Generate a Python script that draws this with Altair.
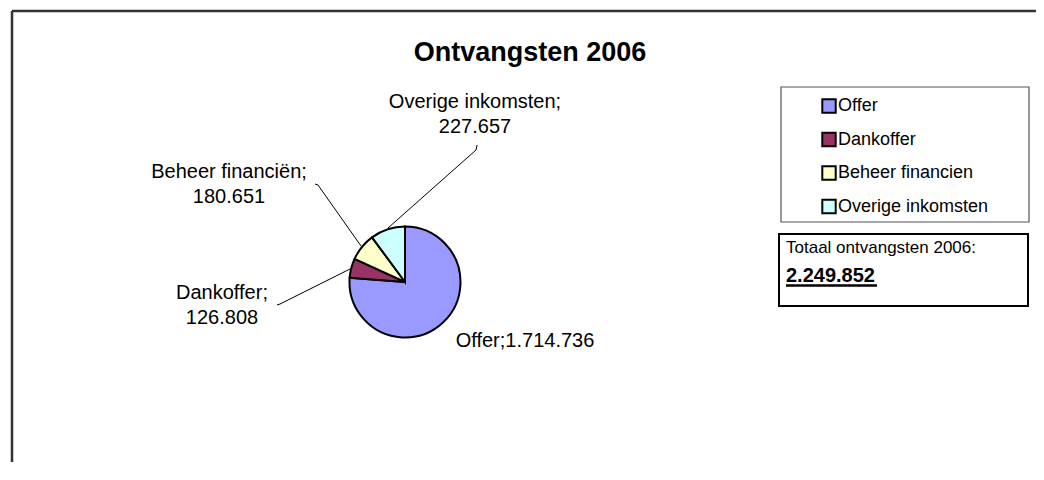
import altair as alt
import pandas as pd

# ---- data ----
legend_names = ["Offer", "Dankoffer", "Beheer financien", "Overige inkomsten"]
label_names = ["Offer", "Dankoffer", "Beheer financiën", "Overige inkomsten"]
values = [1714736, 126808, 180651, 227657]
colors = ["#9999FF", "#993366", "#FFFFCC", "#CCFFFF"]
title_text = "Ontvangsten 2006"
total_caption = "Totaal ontvangsten 2006:"

def nl(v):
    return f"{v:,}".replace(",", ".")

total_text = nl(sum(values))

# ---- layout (pixel positions inside the chart) ----
W, H = 1028, 454
CX, CY, R = 397, 274, 55.5
label_pos = {
    "Offer": (517, 339, None),
    "Dankoffer": (214, 291, 316),
    "Beheer financiën": (221, 170, 195),
    "Overige inkomsten": (467, 100, 125),
}
leader_pts = {
    "Dankoffer": [(269, 297), (272, 296), (342, 261)],
    "Beheer financiën": [(307, 176), (310, 177), (353, 238)],
    "Overige inkomsten": [(469, 137), (468, 142), (380, 220)],
}

pie_df = pd.DataFrame({"cat": legend_names, "value": values, "idx": list(range(len(values)))})

rows = []
for name, v in zip(label_names, values):
    cx, y1, y2 = label_pos[name]
    if y2 is None:
        rows.append({"t": f"{name};{nl(v)}", "px": cx, "py": y1})
    else:
        rows.append({"t": f"{name};", "px": cx, "py": y1})
        rows.append({"t": nl(v), "px": cx, "py": y2})
lab_df = pd.DataFrame(rows)

lrows = []
for name, pts in leader_pts.items():
    for i, (x, y) in enumerate(pts):
        lrows.append({"seg": name, "o": i, "px": x, "py": y})
lead_df = pd.DataFrame(lrows)

FONT = "Liberation Sans"
XP = lambda f: alt.X(f, type="quantitative", scale=None, axis=None)
YP = lambda f: alt.Y(f, type="quantitative", scale=None, axis=None)

one = pd.DataFrame({"a": [0]})

frame_top = alt.Chart(one).mark_rule(color="#333333", strokeWidth=2.5).encode(
    x=alt.value(4), x2=alt.value(W + 10), y=alt.value(3))
frame_left = alt.Chart(one).mark_rule(color="#333333", strokeWidth=2.5).encode(
    x=alt.value(4), y=alt.value(3), y2=alt.value(H + 10))

title = alt.Chart(one).mark_text(text=title_text, font=FONT, fontSize=27, fontWeight="bold",
                                  align="center", baseline="alphabetic", color="black").encode(
    x=alt.value(522), y=alt.value(53))

legend_box = alt.Chart(one).mark_rect(fill="white", stroke="#555555", strokeWidth=1.2).encode(
    x=alt.value(773), x2=alt.value(1021), y=alt.value(79), y2=alt.value(214))
total_box = alt.Chart(one).mark_rect(fill="white", stroke="black", strokeWidth=2).encode(
    x=alt.value(771), x2=alt.value(1020), y=alt.value(226), y2=alt.value(298))
total_l1 = alt.Chart(one).mark_text(text=total_caption, font=FONT, fontSize=17, align="left",
                                     baseline="alphabetic", color="black").encode(
    x=alt.value(778), y=alt.value(245))
total_l2 = alt.Chart(one).mark_text(text=total_text, font=FONT, fontSize=20, fontWeight="bold",
                                     align="left", baseline="alphabetic", color="black").encode(
    x=alt.value(778), y=alt.value(274))
total_ul = alt.Chart(one).mark_rule(color="black", strokeWidth=2.5).encode(
    x=alt.value(778), x2=alt.value(869), y=alt.value(277.5))

pie = alt.Chart(pie_df).mark_arc(outerRadius=R, stroke="black", strokeWidth=2).encode(
    theta=alt.Theta("value:Q", stack=True),
    color=alt.Color("cat:N", scale=alt.Scale(domain=legend_names, range=colors),
                    sort=legend_names,
                    legend=alt.Legend(orient="none", legendX=812, legendY=89, title=None,
                                      symbolType="square", symbolSize=180,
                                      symbolStrokeColor="black", symbolStrokeWidth=2,
                                      labelFont=FONT, labelFontSize=18, labelColor="black",
                                      labelOffset=0, rowPadding=11.5, padding=0,
                                      labelLimit=300)),
    order=alt.Order("idx:Q"),
    x=alt.value(CX), y=alt.value(CY),
)

leaders = alt.Chart(lead_df).mark_line(color="black", strokeWidth=1).encode(
    x=XP("px"), y=YP("py"), detail="seg:N", order="o:Q")

labels = alt.Chart(lab_df).mark_text(font=FONT, fontSize=20, align="center",
                                      baseline="alphabetic", color="black").encode(
    x=XP("px"), y=YP("py"), text="t:N")

chart = alt.layer(
    frame_top, frame_left, title, legend_box, total_box, total_l1, total_l2, total_ul,
    leaders, pie, labels
).properties(
    width=W, height=H, padding=0, autosize=alt.AutoSizeParams(type="none"),
    background="white"
).configure_view(stroke=None)

chart.save("out.html", embed_options={"renderer": "svg", "actions": False})
